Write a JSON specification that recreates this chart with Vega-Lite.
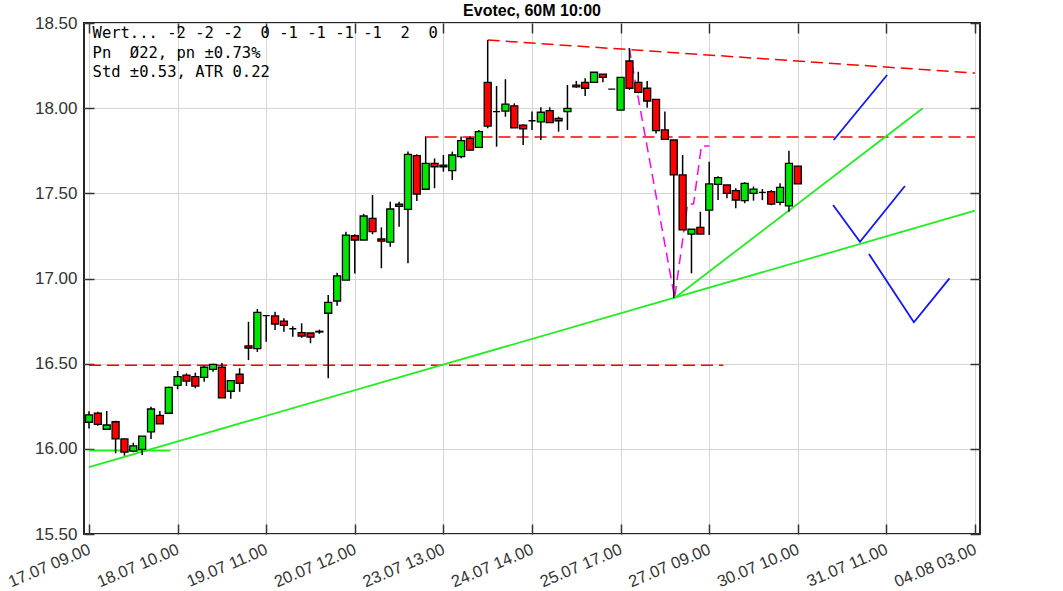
{
  "$schema": "https://vega.github.io/schema/vega-lite/v6.json",
  "width": 896,
  "height": 511,
  "autosize": {"type": "none"},
  "padding": {"left": 84, "top": 23, "right": 83, "bottom": 57},
  "background": "white",
  "title": {"text": "Evotec, 60M 10:00", "fontSize": 16, "fontWeight": "bold", "font": "Liberation Sans", "color": "#000", "offset": 6, "dy": 11, "anchor": "middle"},
  "config": {
    "view": {"stroke": "#262626", "strokeWidth": 2},
    "axis": {"title": null, "domain": false, "tickSize": -10, "tickColor": "#333", "tickWidth": 1.5, "gridColor": "#d6d6d6", "gridWidth": 1, "labelFont": "Liberation Sans", "labelFontSize": 17, "labelColor": "#333"}
  },
  "datasets": {
    "candles": [
      {"i":0,"o":16.156,"h":16.22,"l":16.12,"c":16.199},
      {"i":1,"o":16.209,"h":16.218,"l":16.136,"c":16.144},
      {"i":2,"o":16.115,"h":16.222,"l":16.11,"c":16.14},
      {"i":3,"o":16.159,"h":16.165,"l":15.974,"c":16.058},
      {"i":4,"o":16.058,"h":16.06,"l":15.96,"c":15.981},
      {"i":5,"o":15.987,"h":16.036,"l":15.98,"c":16.017},
      {"i":6,"o":15.997,"h":16.075,"l":15.964,"c":16.075},
      {"i":7,"o":16.10,"h":16.247,"l":16.058,"c":16.234},
      {"i":8,"o":16.197,"h":16.222,"l":16.147,"c":16.147},
      {"i":9,"o":16.209,"h":16.365,"l":16.209,"c":16.361},
      {"i":10,"o":16.373,"h":16.457,"l":16.35,"c":16.424},
      {"i":11,"o":16.433,"h":16.443,"l":16.369,"c":16.398},
      {"i":12,"o":16.424,"h":16.447,"l":16.355,"c":16.369},
      {"i":13,"o":16.42,"h":16.49,"l":16.394,"c":16.479},
      {"i":14,"o":16.467,"h":16.50,"l":16.453,"c":16.496},
      {"i":15,"o":16.479,"h":16.504,"l":16.30,"c":16.30},
      {"i":16,"o":16.338,"h":16.40,"l":16.294,"c":16.40},
      {"i":17,"o":16.438,"h":16.473,"l":16.335,"c":16.385},
      {"i":18,"o":16.604,"h":16.746,"l":16.521,"c":16.592},
      {"i":19,"o":16.588,"h":16.821,"l":16.569,"c":16.801},
      {"i":20,"o":16.782,"h":16.785,"l":16.629,"c":16.782},
      {"i":21,"o":16.78,"h":16.805,"l":16.698,"c":16.733},
      {"i":22,"o":16.75,"h":16.766,"l":16.688,"c":16.725},
      {"i":23,"o":16.705,"h":16.72,"l":16.658,"c":16.705},
      {"i":24,"o":16.682,"h":16.737,"l":16.652,"c":16.662},
      {"i":25,"o":16.68,"h":16.68,"l":16.62,"c":16.656},
      {"i":26,"o":16.686,"h":16.70,"l":16.675,"c":16.69},
      {"i":27,"o":16.796,"h":16.903,"l":16.414,"c":16.86},
      {"i":28,"o":16.868,"h":17.034,"l":16.84,"c":17.015},
      {"i":29,"o":16.991,"h":17.275,"l":16.991,"c":17.255},
      {"i":30,"o":17.251,"h":17.26,"l":17.03,"c":17.226},
      {"i":31,"o":17.226,"h":17.38,"l":17.226,"c":17.367},
      {"i":32,"o":17.353,"h":17.49,"l":17.26,"c":17.275},
      {"i":33,"o":17.232,"h":17.30,"l":17.06,"c":17.22},
      {"i":34,"o":17.213,"h":17.451,"l":17.187,"c":17.408},
      {"i":35,"o":17.436,"h":17.451,"l":17.304,"c":17.424},
      {"i":36,"o":17.406,"h":17.745,"l":17.089,"c":17.729},
      {"i":37,"o":17.721,"h":17.73,"l":17.455,"c":17.496},
      {"i":38,"o":17.524,"h":17.835,"l":17.524,"c":17.676},
      {"i":39,"o":17.676,"h":17.705,"l":17.53,"c":17.656},
      {"i":40,"o":17.666,"h":17.725,"l":17.627,"c":17.656},
      {"i":41,"o":17.633,"h":17.745,"l":17.578,"c":17.725},
      {"i":42,"o":17.715,"h":17.833,"l":17.706,"c":17.809},
      {"i":43,"o":17.823,"h":17.833,"l":17.75,"c":17.754},
      {"i":44,"o":17.77,"h":17.872,"l":17.77,"c":17.862},
      {"i":45,"o":18.152,"h":18.40,"l":17.882,"c":17.895},
      {"i":46,"o":17.98,"h":18.13,"l":17.774,"c":17.98},
      {"i":47,"o":17.983,"h":18.17,"l":17.95,"c":18.024},
      {"i":48,"o":18.014,"h":18.028,"l":17.885,"c":17.885},
      {"i":49,"o":17.901,"h":17.905,"l":17.784,"c":17.878},
      {"i":50,"o":17.926,"h":17.98,"l":17.872,"c":17.926},
      {"i":51,"o":17.92,"h":18.005,"l":17.813,"c":17.976},
      {"i":52,"o":17.985,"h":18.005,"l":17.915,"c":17.915},
      {"i":53,"o":17.94,"h":17.95,"l":17.862,"c":17.926},
      {"i":54,"o":17.98,"h":18.136,"l":17.872,"c":17.999},
      {"i":55,"o":18.135,"h":18.16,"l":18.12,"c":18.125},
      {"i":56,"o":18.152,"h":18.175,"l":18.071,"c":18.117},
      {"i":57,"o":18.152,"h":18.211,"l":18.152,"c":18.211},
      {"i":58,"o":18.2,"h":18.2,"l":18.152,"c":18.181},
      {"i":59,"o":18.112,"h":18.112,"l":18.112,"c":18.112},
      {"i":60,"o":17.989,"h":18.181,"l":17.989,"c":18.181},
      {"i":61,"o":18.277,"h":18.352,"l":18.107,"c":18.117},
      {"i":62,"o":18.152,"h":18.214,"l":18.087,"c":18.093},
      {"i":63,"o":18.117,"h":18.16,"l":18.003,"c":18.042},
      {"i":64,"o":18.052,"h":18.052,"l":17.852,"c":17.868},
      {"i":65,"o":17.872,"h":17.98,"l":17.817,"c":17.817},
      {"i":66,"o":17.813,"h":17.813,"l":16.886,"c":17.608},
      {"i":67,"o":17.608,"h":17.725,"l":17.285,"c":17.285},
      {"i":68,"o":17.261,"h":17.289,"l":17.03,"c":17.289},
      {"i":69,"o":17.30,"h":17.392,"l":17.261,"c":17.261},
      {"i":70,"o":17.402,"h":17.686,"l":17.255,"c":17.555},
      {"i":71,"o":17.553,"h":17.60,"l":17.461,"c":17.592},
      {"i":72,"o":17.549,"h":17.549,"l":17.471,"c":17.50},
      {"i":73,"o":17.516,"h":17.53,"l":17.412,"c":17.461},
      {"i":74,"o":17.457,"h":17.565,"l":17.442,"c":17.559},
      {"i":75,"o":17.50,"h":17.54,"l":17.457,"c":17.525},
      {"i":76,"o":17.506,"h":17.525,"l":17.46,"c":17.506},
      {"i":77,"o":17.51,"h":17.52,"l":17.43,"c":17.437},
      {"i":78,"o":17.447,"h":17.559,"l":17.43,"c":17.535},
      {"i":79,"o":17.426,"h":17.75,"l":17.392,"c":17.676},
      {"i":80,"o":17.66,"h":17.66,"l":17.555,"c":17.555}
    ],
    "lines": [
      {"k":"red","s":"r1","x":0,"y":16.49},
      {"k":"red","s":"r1","x":71.6,"y":16.49},
      {"k":"red","s":"r2","x":38.1,"y":17.83},
      {"k":"red","s":"r2","x":100,"y":17.83},
      {"k":"red","s":"r3","x":45.0,"y":18.40},
      {"k":"red","s":"r3","x":100,"y":18.206},
      {"k":"green","s":"g1","x":0,"y":15.893},
      {"k":"green","s":"g1","x":100,"y":17.398},
      {"k":"green","s":"g2","x":66.1,"y":16.886},
      {"k":"green","s":"g2","x":94.1,"y":17.999},
      {"k":"green","s":"g3","x":0,"y":15.99},
      {"k":"green","s":"g3","x":9.2,"y":15.99},
      {"k":"magenta","s":"m1","x":60.97,"y":18.353},
      {"k":"magenta","s":"m1","x":66.1,"y":16.886},
      {"k":"magenta","s":"m1","x":67.56,"y":17.437},
      {"k":"magenta","s":"m1","x":68.23,"y":17.437},
      {"k":"magenta","s":"m1","x":69.12,"y":17.778},
      {"k":"magenta","s":"m1","x":70.01,"y":17.778},
      {"k":"blue","s":"b1","x":84.05,"y":17.813},
      {"k":"blue","s":"b1","x":90.08,"y":18.195},
      {"k":"blue","s":"b2","x":83.98,"y":17.431},
      {"k":"blue","s":"b2","x":87.02,"y":17.216},
      {"k":"blue","s":"b2","x":92.09,"y":17.543},
      {"k":"blue","s":"b3","x":88.03,"y":17.144},
      {"k":"blue","s":"b3","x":93.10,"y":16.743},
      {"k":"blue","s":"b3","x":97.12,"y":17.001}
    ],
    "note": [
      {"t": "Wert...\u00a0-2\u00a0-2\u00a0-2\u00a0\u00a00\u00a0-1\u00a0-1\u00a0-1\u00a0-1\u00a0\u00a02\u00a0\u00a00\nPn\u00a0\u00a0Ø22,\u00a0pn\u00a0±0.73%\nStd\u00a0±0.53,\u00a0ATR\u00a00.22"}
    ]
  },
  "resolve": {"axis": {"x": "independent", "y": "independent"}},
  "layer": [
    {
      "data": {"name": "lines"},
      "transform": [{"filter": "datum.k == 'red'"}],
      "mark": {"type": "line", "color": "#ff0000", "strokeWidth": 1.5, "strokeDash": [12, 6], "clip": true},
      "encoding": {
        "x": {"field": "x", "type": "quantitative",
              "scale": {"domain": [0, 100], "nice": false, "zero": false},
              "axis": {"orient": "bottom", "values": [0,10,20,30,40,50,60,70,80,90,100], "grid": true,
                       "labelExpr": "['17.07 09.00','18.07 10.00','19.07 11.00','20.07 12.00','23.07 13.00','24.07 14.00','25.07 17.00','27.07 09.00','30.07 10.00','31.07 11.00','04.08 03.00'][round(datum.value/10)]",
                       "labelAngle": -23, "labelAlign": "right", "labelBaseline": "top", "labelPadding": 17, "labelOffset": -3, "labelFontSize": 16.5,
                       "labelFlush": false, "labelOverlap": false, "labelBound": false}},
        "y": {"field": "y", "type": "quantitative",
              "scale": {"domain": [15.5, 18.5], "nice": false, "zero": false},
              "axis": {"orient": "left", "values": [15.5,16,16.5,17,17.5,18,18.5], "format": ".2f", "grid": true, "labelPadding": 17}},
        "detail": {"field": "s"}
      }
    },
    {
      "data": {"name": "lines"},
      "transform": [{"filter": "datum.k == 'green'"}],
      "mark": {"type": "line", "color": "#22ee22", "strokeWidth": 1.8, "clip": true},
      "encoding": {
        "x": {"field": "x", "type": "quantitative", "axis": null},
        "y": {"field": "y", "type": "quantitative", "axis": null},
        "detail": {"field": "s"}
      }
    },
    {
      "data": {"name": "lines"},
      "transform": [{"filter": "datum.k == 'magenta'"}],
      "mark": {"type": "line", "color": "#ff00ff", "strokeWidth": 1.5, "strokeDash": [10, 6], "clip": true},
      "encoding": {
        "x": {"field": "x", "type": "quantitative", "axis": null},
        "y": {"field": "y", "type": "quantitative", "axis": null},
        "detail": {"field": "s"}
      }
    },
    {
      "data": {"name": "lines"},
      "transform": [{"filter": "datum.k == 'blue'"}],
      "mark": {"type": "line", "color": "#1414ff", "strokeWidth": 1.8, "clip": true},
      "encoding": {
        "x": {"field": "x", "type": "quantitative", "axis": null},
        "y": {"field": "y", "type": "quantitative", "axis": null},
        "detail": {"field": "s"}
      }
    },
    {
      "data": {"name": "candles"},
      "mark": {"type": "rule", "color": "#000", "strokeWidth": 1.5, "clip": true},
      "encoding": {
        "x": {"field": "i", "type": "quantitative",
              "axis": {"orient": "top", "values": [0,10,20,30,40,50,60,70,80,90,100], "labels": false, "grid": false}},
        "y": {"field": "l", "type": "quantitative",
              "axis": {"orient": "right", "values": [15.5,16,16.5,17,17.5,18,18.5], "labels": false, "grid": false}},
        "y2": {"field": "h"}
      }
    },
    {
      "data": {"name": "candles"},
      "mark": {"type": "bar", "size": 7, "stroke": "#000", "strokeWidth": 1.3, "clip": true},
      "encoding": {
        "x": {"field": "i", "type": "quantitative", "axis": null},
        "y": {"field": "o", "type": "quantitative", "axis": null},
        "y2": {"field": "c"},
        "fill": {"condition": {"test": "datum.c >= datum.o", "value": "#00e600"}, "value": "#ff0000"}
      }
    },
    {
      "data": {"name": "note"},
      "mark": {"type": "text", "align": "left", "baseline": "alphabetic", "font": "DejaVu Sans Mono", "fontSize": 15.5, "lineBreak": "\n", "lineHeight": 19.2, "color": "#000"},
      "encoding": {
        "x": {"datum": 0.4, "type": "quantitative", "axis": null},
        "y": {"datum": 18.41, "type": "quantitative", "axis": null},
        "text": {"field": "t"}
      }
    }
  ]
}
